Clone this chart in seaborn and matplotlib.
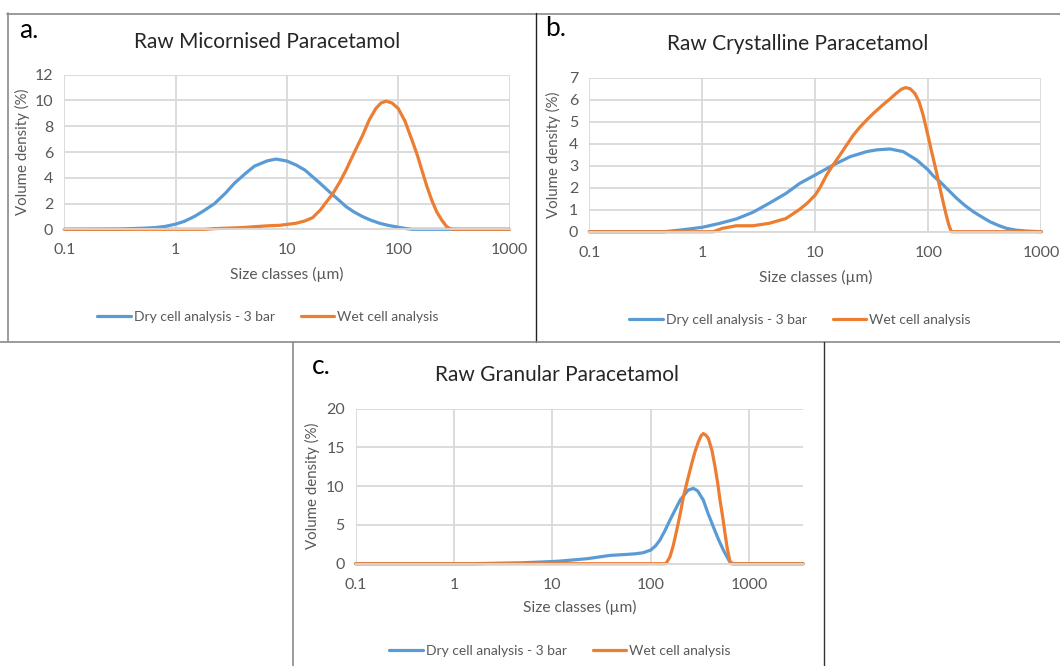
import matplotlib
matplotlib.use("Agg")
import matplotlib.pyplot as plt
import seaborn as sns
import pandas as pd
from matplotlib.lines import Line2D
from matplotlib.ticker import NullLocator, FixedLocator, FixedFormatter

# ---------------- data ----------------
series_names = ["Dry cell analysis - 3 bar", "Wet cell analysis"]
panel_titles = ["Raw Micornised Paracetamol", "Raw Crystalline Paracetamol", "Raw Granular Paracetamol"]
panel_letters = ["a.", "b.", "c."]
x_ticks = [0.1, 1, 10, 100, 1000]
x_tick_labels = ["0.1", "1", "10", "100", "1000"]

a_dry_x = [0.1, 0.3, 0.5, 0.65, 0.8, 1.0, 1.2, 1.48, 1.8, 2.24, 2.8, 3.4, 4.2, 5.1, 6.7, 8.0, 10, 12.1, 14.5,
           17, 20, 24, 29, 34, 40, 48, 57, 68, 82, 100, 115, 133, 1000]
a_dry_y = [0, 0.02, 0.08, 0.13, 0.22, 0.4, 0.62, 1.0, 1.45, 2.0, 2.8, 3.6, 4.3, 4.9, 5.32, 5.45, 5.3, 4.99, 4.6,
           4.08, 3.55, 2.92, 2.3, 1.76, 1.35, 0.98, 0.7, 0.47, 0.3, 0.16, 0.07, 0.0, 0]
a_wet_x = [0.1, 1.8, 2.2, 3.9, 6.7, 8.6, 10, 12.1, 14.5, 17, 20, 23, 25.8, 30, 34, 40, 48, 55, 63, 70, 78, 88,
           100, 115, 133, 148, 163, 180, 200, 222, 246, 270, 293, 320, 1000]
a_wet_y = [0, 0, 0.05, 0.13, 0.27, 0.31, 0.38, 0.47, 0.65, 0.9, 1.5, 2.2, 2.75, 3.7, 4.6, 5.9, 7.31, 8.5, 9.38,
           9.8, 9.95, 9.8, 9.38, 8.4, 6.92, 5.8, 4.6, 3.4, 2.27, 1.35, 0.72, 0.25, 0.03, 0, 0]

b_dry_x = [0.1, 0.46, 0.65, 1.0, 1.43, 2.0, 2.8, 3.9, 5.5, 7.3, 10, 14.4, 20.3, 28.5, 35, 45.8, 60, 79, 100, 110,
           127, 150, 178, 210, 250, 300, 352, 420, 494, 600, 741, 1000]
b_dry_y = [0, 0, 0.08, 0.2, 0.38, 0.58, 0.88, 1.29, 1.74, 2.2, 2.58, 3.03, 3.41, 3.64, 3.72, 3.76, 3.64, 3.26,
           2.8, 2.55, 2.27, 1.9, 1.52, 1.2, 0.91, 0.66, 0.45, 0.28, 0.15, 0.07, 0.03, 0]
b_wet_x = [0.1, 1.25, 1.5, 2.0, 2.8, 3.9, 5.5, 7.2, 8.5, 10, 11, 12.6, 14, 16.5, 19, 21.7, 24.5, 28.5, 33, 39.5,
           45, 52, 58, 63, 69, 76, 83, 90, 98, 107, 117, 127, 136, 144, 152, 160, 1000]
b_wet_y = [0, 0, 0.15, 0.27, 0.27, 0.38, 0.6, 1.0, 1.3, 1.67, 2.0, 2.58, 2.95, 3.48, 3.95, 4.39, 4.72, 5.08,
           5.4, 5.76, 6.0, 6.29, 6.48, 6.55, 6.5, 6.29, 5.9, 5.3, 4.5, 3.64, 2.8, 1.97, 1.3, 0.76, 0.3, 0.0, 0]

c_dry_x = [0.1, 1.5, 2, 5, 10, 12, 22.4, 38.5, 57, 70, 84, 100, 112, 124, 140, 157, 178, 199, 220, 240, 272,
           300, 343, 380, 433, 490, 548, 590, 636, 692, 3540]
c_dry_y = [0, 0, 0.03, 0.12, 0.28, 0.34, 0.64, 1.07, 1.2, 1.28, 1.42, 1.76, 2.3, 3.05, 4.3, 5.63, 7.0, 8.2, 8.9,
           9.5, 9.72, 9.4, 8.2, 6.6, 4.77, 3.1, 1.76, 1.0, 0.26, 0, 0]
c_wet_x = [0.1, 143, 157, 170, 184, 200, 215, 238, 261, 283, 305, 325, 343, 362, 385, 420, 451, 480, 507, 540,
           570, 600, 636, 656, 3540]
c_wet_y = [0, 0, 0.9, 2.4, 4.34, 6.5, 8.64, 10.9, 12.9, 14.5, 15.7, 16.5, 16.8, 16.6, 16.2, 14.6, 12.5, 10.4,
           8.2, 6.0, 3.9, 2.0, 0.47, 0, 0]

y_limits = [12, 7, 20]
y_steps = [2, 1, 5]
x_max = [1000, 1000, 3540]

# ---------------- style ----------------
sns.set_theme(style="white")
plt.rcParams['font.family'] = ['Lato', 'DejaVu Sans']

BLUE = "#5B9BD5"
ORANGE = "#ED7D31"
GRID = "#D9D9D9"
TXT = "#595959"

W, H = 1060, 666
fig = plt.figure(figsize=(W / 100, H / 100), dpi=100)
fig.patch.set_facecolor("white")


def fx(x):
    return x / W


def fy(y):
    return 1 - y / H


def add_axes_px(l, t, r, b):
    return fig.add_axes([fx(l), fy(b), (r - l) / W, (b - t) / H])


def fline(x0, y0, x1, y1, color, lw=1.0):
    fig.add_artist(Line2D([fx(x0), fx(x1)], [fy(y0), fy(y1)], transform=fig.transFigure,
                          color=color, lw=lw))


# panel frames
fline(7, 13.5, 1060, 13.5, "#8A8A8A", 1.2)
fline(7.5, 13, 7.5, 341, "#8A8A8A", 1.2)
fline(535.5, 13, 535.5, 341.5, "#222222", 1.0)
fline(0, 341.5, 1060, 341.5, "#8A8A8A", 1.2)
fline(293, 341.5, 293, 666, "#8A8A8A", 1.2)
fline(823.5, 341.5, 823.5, 666, "#333333", 1.0)

panels = [
    dict(box=(64.3, 74.7, 509.5, 229.3), dry=(a_dry_x, a_dry_y), wet=(a_wet_x, a_wet_y),
         title_xy=(267, 42), letter_xy=(19, 30), xlabel_y=274, ylabel_x=22, legend_xy=(268, 317)),
    dict(box=(589.3, 77.7, 1041.3, 231.7), dry=(b_dry_x, b_dry_y), wet=(b_wet_x, b_wet_y),
         title_xy=(798, 44), letter_xy=(545, 29), xlabel_y=277, ylabel_x=553, legend_xy=(800, 320)),
    dict(box=(355.8, 408.7, 803, 563.7), dry=(c_dry_x, c_dry_y), wet=(c_wet_x, c_wet_y),
         title_xy=(557, 375), letter_xy=(312, 367), xlabel_y=607, ylabel_x=312, legend_xy=(560, 651)),
]

for i, p in enumerate(panels):
    l, t, r, b = p["box"]
    ax = add_axes_px(l, t, r, b)
    df = pd.concat([
        pd.DataFrame({"size": p["dry"][0], "vol": p["dry"][1], "series": series_names[0]}),
        pd.DataFrame({"size": p["wet"][0], "vol": p["wet"][1], "series": series_names[1]}),
    ])
    sns.lineplot(data=df, x="size", y="vol", hue="series", palette=[BLUE, ORANGE],
                 linewidth=2.3, ax=ax, legend=False, sort=False, estimator=None)
    ax.set_xscale("log")
    ax.set_xlim(0.1, x_max[i])
    ax.set_ylim(0, y_limits[i])
    ax.xaxis.set_major_locator(FixedLocator(x_ticks))
    ax.xaxis.set_major_formatter(FixedFormatter(x_tick_labels))
    ax.xaxis.set_minor_locator(NullLocator())
    yt = list(range(0, y_limits[i] + 1, y_steps[i]))
    ax.set_yticks(yt)
    ax.set_yticklabels([str(v) for v in yt])
    ax.grid(True, color=GRID, lw=1.3)
    ax.set_axisbelow(True)
    for s in ["top", "right", "left"]:
        ax.spines[s].set_visible(False)
    ax.spines["bottom"].set_color(GRID)
    ax.spines["bottom"].set_linewidth(1.3)
    ax.tick_params(axis="both", length=0, labelsize=11.5, colors=TXT)
    ax.tick_params(axis="x", pad=10)
    ax.tick_params(axis="y", pad=8)
    ax.set_xlabel("")
    ax.set_ylabel("")
    for ln in ax.get_lines():
        ln.set_solid_capstyle("round")
        ln.set_solid_joinstyle("round")
        ln.set_clip_on(False)

    # text
    fig.text(fx(p["title_xy"][0]), fy(p["title_xy"][1]), panel_titles[i], ha="center", va="center",
             fontsize=15, color="#262626")
    fig.text(fx(p["letter_xy"][0]), fy(p["letter_xy"][1]), panel_letters[i], ha="left", va="center",
             fontsize=19, color="#000000")
    fig.text(fx((l + r) / 2), fy(p["xlabel_y"]), "Size classes (µm)", ha="center", va="center",
             fontsize=11.2, color=TXT)
    fig.text(fx(p["ylabel_x"]), fy((t + b) / 2), "Volume density (%)", ha="center", va="center",
             rotation=90, fontsize=10.8, color=TXT)
    handles = [Line2D([], [], color=BLUE, lw=2.3), Line2D([], [], color=ORANGE, lw=2.3)]
    fig.legend(handles, series_names, loc="center", bbox_to_anchor=(fx(p["legend_xy"][0]), fy(p["legend_xy"][1])),
               ncol=2, frameon=False, fontsize=10, handlelength=2.4, handletextpad=0.2,
               columnspacing=1.9, labelcolor=TXT, borderaxespad=0, borderpad=0)

fig.savefig("out.png", dpi=100, facecolor="white")
